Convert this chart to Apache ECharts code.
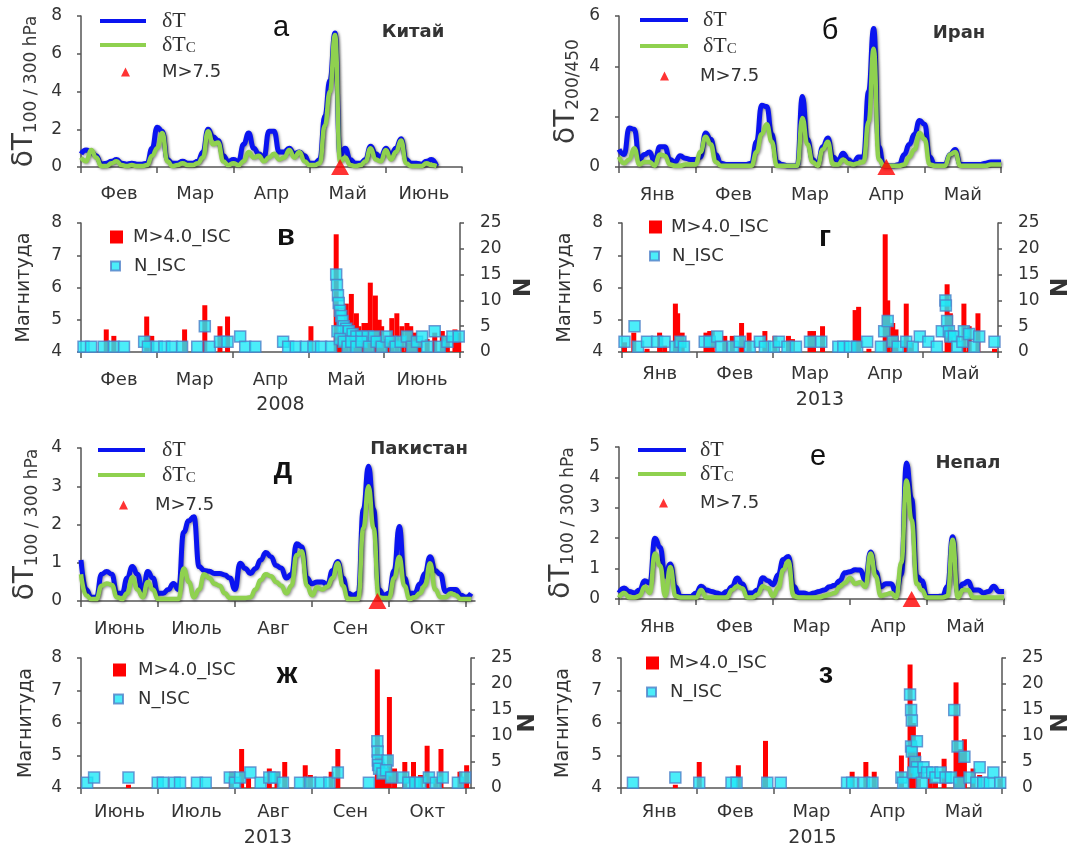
<!DOCTYPE html>
<html><head><meta charset="utf-8">
<script src="https://cdn.jsdelivr.net/npm/echarts@6/dist/echarts.min.js"></script>
<style>html,body{margin:0;padding:0;background:#fff}#c{width:1074px;height:850px}</style>
</head><body><div id="c"></div>
<script>
// ---------- data ----------
const STEP = 2; // days between samples of δT series
const mFebJun = ['Фев','Мар','Апр','Май','Июнь'];
const mJanMay = ['Янв','Фев','Мар','Апр','Май'];
const mJunOct = ['Июнь','Июль','Авг','Сен','Окт'];
const tickDays = [0,30,60,90,120,150];
const labelDays = [15,45,75,105,135];

// а — Китай 2008
const aBlue = [0.7,0.9,0.8,0.6,0.15,0.2,0.3,0.4,0.2,0.15,0.2,0.15,0.15,0.2,1.0,2.1,1.9,0.4,0.2,0.2,0.3,0.2,0.2,0.3,0.8,2.0,1.6,1.4,0.6,0.3,0.4,0.3,1.2,1.8,1.0,0.7,0.5,1.9,1.9,0.8,0.8,1.0,0.7,0.8,0.6,0.2,0.2,0.4,2.7,4.6,7.1,0.6,1.0,0.4,0.2,0.2,0.4,1.1,0.7,0.5,1.0,0.6,1.0,1.5,0.4,0.2,0.2,0.15,0.3,0.4,0.05];
const aGreen = [0.5,0.3,0.9,0.5,0.05,0.05,0.2,0.3,0.1,0.05,0.1,0.05,0.05,0.1,0.6,1.0,1.8,0.3,0.05,0.1,0.2,0.1,0.1,0.2,0.5,1.9,1.2,1.3,0.3,0.1,0.2,0.1,0.3,0.8,0.5,0.6,0.3,0.5,0.7,0.4,0.5,0.9,0.5,0.8,0.3,0.1,0.1,0.2,2.2,4.0,7.0,0.3,0.5,0.1,0.05,0.1,0.3,1.0,0.4,0.3,0.9,0.4,0.8,1.4,0.2,0.05,0.05,0.05,0.2,0.1,0.05];
const aQuake = [[102,0]];
// б — Иран 2013
const bBlue = [0.7,0.5,1.55,1.5,0.3,0.5,0.6,0.2,0.8,0.8,0.3,0.2,0.45,0.35,0.3,0.3,0.4,1.35,1.1,0.5,0.15,0.1,0.1,0.1,0.1,0.1,0.15,1.0,2.45,2.4,1.3,0.2,0.1,0.05,0.05,0.05,2.8,1.1,0.3,0.1,0.8,1.15,0.4,0.25,0.55,0.3,0.15,0.4,0.4,3.0,5.5,0.8,0.05,0.05,0.05,0.1,0.5,0.9,1.3,1.85,1.7,0.4,0.1,0.1,0.1,0.5,0.7,0.1,0.1,0.1,0.1,0.1,0.15,0.2,0.2,0.2];
const bGreen = [0.4,0.15,0.3,0.75,0.1,0.2,0.2,0.05,0.5,0.45,0.1,0.05,0.05,0.1,0.1,0.1,0.6,1.2,0.9,0.2,0.05,0.05,0.05,0.05,0.05,0.05,0.05,0.6,1.3,1.7,1.0,0.05,0.05,0.05,0.05,0.05,1.95,0.9,0.2,0.05,0.7,1.0,0.1,0.1,0.3,0.15,0.1,0.15,0.2,1.8,4.7,0.3,0.05,0.05,0.05,0.05,0.1,0.4,0.7,1.35,1.1,0.1,0.05,0.05,0.05,0.5,0.6,0.05,0.05,0.05,0.05,0.05,0.05,0.1,0.1,0.1];
const bQuake = [[105,0]];
// д — Пакистан 2013
const dBlue = [1.07,0.3,0.1,0.1,0.7,0.77,0.7,0.2,0.2,0.6,0.9,0.7,0.2,0.77,0.6,0.2,0.2,0.3,0.46,0.3,1.8,2.1,2.2,0.9,0.8,0.78,0.72,0.72,0.68,0.6,0.3,0.99,0.85,0.72,0.85,1.07,1.27,1.16,0.93,0.86,0.6,0.7,1.5,1.42,0.6,0.45,0.5,0.5,0.42,0.8,1.03,0.6,0.2,0.15,0.2,2.4,3.52,2.4,0.3,0.15,0.2,0.8,1.95,0.6,0.2,0.2,0.45,0.72,1.16,0.8,0.7,0.25,0.3,0.3,0.15,0.1,0.2];
const dGreen = [0.7,0.15,0.05,0.05,0.4,0.46,0.42,0.1,0.05,0.2,0.62,0.3,0.1,0.5,0.3,0.05,0.05,0.05,0.05,0.05,0.85,0.5,0.1,0.3,0.7,0.6,0.45,0.4,0.2,0.08,0.08,0.08,0.08,0.1,0.3,0.55,0.7,0.65,0.5,0.4,0.2,0.4,1.2,1.3,0.4,0.15,0.35,0.3,0.38,0.6,0.99,0.4,0.05,0.05,0.05,1.9,3.0,1.9,0.1,0.08,0.08,0.6,1.15,0.4,0.05,0.1,0.2,0.4,0.99,0.3,0.1,0.1,0.2,0.15,0.05,0.05,0.05];
const dQuake = [[115.5,0]];
// е — Непал 2015
const eBlue = [0.2,0.36,0.25,0.2,0.3,0.6,0.53,2.0,1.7,0.75,1.15,0.4,0.08,0.08,0.08,0.2,0.42,0.3,0.25,0.2,0.15,0.25,0.4,0.69,0.5,0.2,0.2,0.3,0.7,0.6,0.47,0.8,1.3,1.4,0.42,0.2,0.2,0.15,0.2,0.25,0.3,0.4,0.45,0.6,0.86,0.9,0.96,0.95,0.6,1.55,0.9,0.4,0.5,0.5,0.2,0.8,4.47,3.3,0.75,0.6,0.08,0.08,0.08,0.1,0.42,2.05,0.2,0.5,0.58,0.3,0.3,0.2,0.25,0.42,0.25,0.25];
const eGreen = [0.05,0.2,0.05,0.05,0.1,0.4,0.2,1.5,1.1,0.1,1.05,0.1,0.05,0.05,0.05,0.05,0.3,0.05,0.05,0.05,0.05,0.05,0.3,0.42,0.35,0.05,0.05,0.15,0.42,0.35,0.1,0.35,0.96,1.25,0.1,0.05,0.05,0.05,0.05,0.05,0.1,0.15,0.2,0.4,0.53,0.69,0.5,0.55,0.4,1.5,0.75,0.1,0.15,0.2,0.05,1.2,3.9,2.6,0.5,0.3,0.05,0.05,0.05,0.05,0.1,1.95,0.05,0.3,0.3,0.05,0.05,0.05,0.05,0.05,0.05,0.05];
const eQuake = [[114,0]];

// в — ISC 2008 (day, magnitude) and (day, N)
const vMag = [[10,4.7],[13,4.5],[26,5.1],[28,4.5],[41,4.7],[49,5.45],[55,4.8],[58,5.1],[91,4.8],[101,7.65],[102,4.6],[103.5,4.9],[105,5.5],[107,5.8],[109,5.2],[110,4.8],[112,4.9],[113,4.9],[114.5,6.15],[116.5,5.75],[118,5.0],[119,4.8],[121,4.4],[123,5.05],[125,5.2],[127,4.8],[129,4.9],[130.5,4.8],[132,4.6],[134,4.3],[137,4.4],[140,4.6],[143,4.65],[145,4.5],[148,4.7],[149.5,4.6]];
const vN = [[1,1],[4,1],[9,1],[13,1],[17,1],[25,2],[26.5,1],[30,1],[33,1],[36,1],[40,1],[46,1],[49,5],[51,1],[55,2],[58,2],[63,3],[65,1],[69,1],[80,2],[82,1],[85,1],[89,1],[92,1],[95,1],[99,1],[101,15],[101.3,13],[101.7,11],[102,9.5],[102.5,8],[103,7],[103.5,6],[104,5],[105,4.5],[106,4],[107.5,3.5],[109,3],[111,3],[113.5,3],[116,3],[101.5,4],[102.5,2.5],[104,2],[105.5,1],[107,2],[109,1],[111,2],[114,1],[117,2],[119,1],[121,3],[122.5,2],[124.5,1],[126.5,2],[129,3],[131,1],[133,2],[135,3],[137,1],[140,4],[142,1],[145,2],[147,3],[149.5,3]];
// г — ISC 2013 Иран
const gMag = [[1,4.3],[4.7,4.6],[10,4.1],[15,4.6],[17,4.2],[21.3,5.5],[22.2,5.2],[24,4.6],[33.5,4.6],[35,4.65],[36,4.65],[41,4.5],[44,4.5],[47.7,4.9],[50.7,4.6],[57,4.65],[61,4.5],[66.4,4.5],[68,4.4],[75,4.65],[76.4,4.65],[80,4.8],[93,5.3],[94.4,5.4],[98.5,4.1],[105,7.65],[106,5.6],[108,4.9],[109.3,4.7],[113.4,5.5],[115.4,4.3],[129.7,6.1],[131,5.2],[136.4,5.5],[138.5,4.8],[142,5.2],[148.6,4.1]];
const gN = [[1,2],[5,5],[6.4,1],[10,2],[14,2],[17,2],[21.3,1],[23.3,2],[24.7,1],[33,2],[35,2],[38,3],[39.6,1],[44.3,1],[47,2],[51,1],[55,2],[57,1],[60.6,1],[62.6,2],[66,1],[69.4,1],[75,2],[79.5,2],[86.3,1],[88.3,1],[91,1],[93.8,1],[97.8,2],[103.3,1],[104.6,4],[106,6],[108,2],[110,1],[113.4,2],[116,1],[118.8,3],[122.2,2],[125.6,1],[127.6,4],[129,10],[129.2,9],[129.7,6],[130.4,4],[131,3],[132.4,3],[133.7,1],[135.8,2],[136.4,4],[138.5,3.5],[140.5,1],[142.5,3],[148.6,2]];
// ж — ISC 2013 Пакистан
const zhMag = [[18.5,4.1],[58.6,4.5],[62.6,5.2],[65.3,4.3],[73.4,4.6],[76.4,4.5],[79.4,4.8],[87.4,4.7],[89.4,4.4],[97.5,4.5],[100.1,5.2],[115.5,7.65],[116.9,5.0],[117.8,4.5],[118.7,4.6],[120.2,6.8],[122.2,4.6],[126.2,4.8],[129.6,4.8],[132.3,4.4],[134.9,5.3],[138.3,4.3],[140.3,5.2],[147.7,4.5],[150.3,4.7]];
const zhN = [[2.4,1],[5.1,2],[18.5,2],[29.9,1],[31.9,1],[36.5,1],[38.6,1],[45.2,1],[48.6,1],[58,2],[60,1],[62,2],[66,3],[70,1],[73.4,2],[75.4,2],[78.7,1],[85.4,1],[89.4,1],[93.4,1],[96.8,1],[100.1,3],[112.2,1],[115.5,9],[115.6,7],[115.7,5.3],[115.8,4.4],[116.2,3.7],[117.5,2.8],[119.5,5.3],[118.9,3.4],[120.9,2],[125.6,2],[127.6,1],[130.3,1],[132.3,1],[135.6,2],[138.3,1],[141,2],[146.9,1],[149.7,2]];
// з — ISC 2015 Непал
const zMag = [[21.4,4.1],[30.8,4.8],[46.2,4.7],[56.9,5.45],[91,4.5],[96.4,4.8],[99.7,4.5],[110.4,5.0],[113.8,7.8],[114.5,5.5],[115.1,6.0],[117.1,5.1],[121.8,4.4],[123.8,4.2],[127.2,4.9],[131.9,7.25],[133.5,5.2],[135.2,5.5],[138.6,4.6],[141.2,4.4],[149.2,4.3]];
const zN = [[4.7,1],[21.4,2],[30.8,1],[43.5,1],[45.5,1],[57.6,1],[62.9,1],[89,1],[91,1],[95.7,1],[99,1],[110.4,2],[111.1,1],[113.8,18],[114.2,15],[114.5,13],[114.2,8],[114.5,7],[116.5,9],[115.8,5],[116.5,4],[117.1,3],[115.1,3],[118.5,1],[119.1,4],[120.5,3],[122.5,3],[123.8,2],[125.8,3],[127.8,2],[129.9,2],[131.2,15],[132.5,8],[135.2,6],[133.2,1],[137.2,2],[139.9,1],[141.2,4],[142.6,1],[145.2,1],[146.6,3],[149.3,1]];

// ---------- styles ----------
const FONT = 'DejaVu Sans', SERIF = 'Liberation Serif';
const AX = '#555', TXT = '#333';
const BLUE = '#0a14f0', GREEN = '#8fd14f', RED = '#ff0000', CYAN = '#1ee8f8', CYANB = '#4f7fc8';

const grids = [], xAxes = [], yAxes = [], series = [], legends = [], graphics = [];

function xAx(gi, xmax, months, margin, year, yearGap, yearPad) {
  const o = {gridIndex: gi, type: 'value', min: 0, max: xmax,
    axisLine: {show: true, onZero: false, lineStyle: {color: AX, width: 1.5}},
    axisTick: {show: true, customValues: tickDays, length: 6, lineStyle: {color: AX, width: 1.5}},
    axisLabel: {show: true, customValues: labelDays, margin: margin, color: TXT, fontSize: 18, fontFamily: FONT,
      formatter: v => months[Math.round((v - 15) / 30)]},
    splitLine: {show: false}};
  if (year) Object.assign(o, {name: year, nameLocation: 'middle', nameGap: yearGap,
    nameTextStyle: {color: TXT, fontSize: 19, fontFamily: FONT, padding: yearPad}});
  return o;
}
function yBase(gi, min, max, interval, pos) {
  return {gridIndex: gi, type: 'value', min, max, interval, position: pos,
    axisLine: {show: true, lineStyle: {color: AX, width: 1.5}},
    axisTick: {show: true, length: 4, lineStyle: {color: AX, width: 1.5}},
    axisLabel: {margin: pos === 'left' ? 19 : 20, color: TXT, fontSize: 17, fontFamily: FONT},
    splitLine: {show: false}};
}
function leg(name, left, cy, w, h, icon, pad, fmt) {
  legends.push({show: true, left, top: cy - 10, padding: 0, orient: 'horizontal', selectedMode: false,
    itemWidth: w, itemHeight: h, data: [{name, icon}], formatter: fmt,
    textStyle: {color: TXT, fontSize: 18, fontFamily: FONT, lineHeight: 20, padding: [0, 0, 0, pad],
      rich: {s: {fontFamily: SERIF, fontSize: 22, lineHeight: 22, color: TXT},
             c: {fontFamily: SERIF, fontSize: 15, lineHeight: 14, color: TXT, verticalAlign: 'bottom'}}}});
}
function label(text, x, y, size, bold, family, color) {
  graphics.push({type: 'text', x, y, silent: true, style: {text, fill: color || '#111', fontSize: size,
    fontWeight: bold ? 'bold' : 'normal', fontFamily: family,
    align: 'center', verticalAlign: 'middle', textAlign: 'center', textVerticalAlign: 'middle'}});
}

const topPanels = [
  {grid: {left: 81, top: 16, width: 381, height: 151}, xmax: 150, ymax: 8, yint: 2, months: mFebJun, margin: 18,
   blue: aBlue, green: aGreen, quake: aQuake, sub: '100 / 300 hPa', gap: 41,
   lg: {x: 100, w: 46, y: [20, 44, 72], tri: 121, padL: 11, padT: 27},
   letter: ['а', 281, 28, false], country: ['Китай', 413, 32]},
  {grid: {left: 619, top: 16, width: 382, height: 151}, xmax: 150, ymax: 6, yint: 2, months: mJanMay, margin: 19,
   blue: bBlue, green: bGreen, quake: bQuake, sub: '200/450', gap: 37,
   lg: {x: 640, w: 48, y: [19, 45, 76], tri: 660, padL: 10, padT: 26},
   letter: ['б', 830, 31, false], country: ['Иран', 959, 33]},
  {grid: {left: 81, top: 448, width: 394, height: 153}, xmax: 153.5, ymax: 4, yint: 1, months: mJunOct, margin: 19,
   blue: dBlue, green: dGreen, quake: dQuake, sub: '100 / 300 hPa', gap: 40,
   lg: {x: 98, w: 47, y: [449, 474, 505], tri: 119, padL: 12, padT: 22},
   letter: ['д', 283, 470, true], country: ['Пакистан', 419, 449]},
  {grid: {left: 619, top: 447, width: 385, height: 152}, xmax: 150, ymax: 5, yint: 1, months: mJanMay, margin: 19,
   blue: eBlue, green: eGreen, quake: eQuake, sub: '100 / 300 hPa', gap: 42,
   lg: {x: 638, w: 48, y: [449, 473, 503], tri: 659, padL: 9, padT: 27},
   letter: ['е', 818, 457, false], country: ['Непал', 968, 463]}
];
const botPanels = [
  {grid: {left: 81, top: 223, width: 379, height: 129}, xmax: 150, months: mFebJun, margin: 19, year: '2008', yearGap: 44, yearPad: [0, 0, 0, 20],
   mag: vMag, n: vN, gapL: 47, gapR: 53,
   lg: {x: 110, y: [237, 266], pr: 5, pc: 9}, letter: ['в', 286, 237, true]},
  {grid: {left: 622, top: 223, width: 379, height: 129}, xmax: 150, months: mJanMay, margin: 13, year: '2013', yearGap: 39, yearPad: [0, 0, 0, 20],
   mag: gMag, n: gN, gapL: 47, gapR: 52,
   lg: {x: 649, y: [227, 256], pr: 4, pc: 8}, letter: ['г', 825, 238, true]},
  {grid: {left: 81, top: 658, width: 390, height: 130}, xmax: 152, months: mJunOct, margin: 15, year: '2013', yearGap: 41, yearPad: [0, 16, 0, 0],
   mag: zhMag, n: zhN, gapL: 45, gapR: 45,
   lg: {x: 113, y: [670, 699], pr: 7, pc: 10}, letter: ['ж', 287, 675, true]},
  {grid: {left: 621, top: 658, width: 383, height: 130}, xmax: 150, months: mJanMay, margin: 15, year: '2015', yearGap: 41, yearPad: [0, 0, 0, 2],
   mag: zMag, n: zN, gapL: 48, gapR: 48,
   lg: {x: 646, y: [663, 692], pr: 5, pc: 9}, letter: ['з', 826, 675, true]}
];

const lineShadow = {shadowColor: 'rgba(0,0,0,0.45)', shadowBlur: 3, shadowOffsetX: 1, shadowOffsetY: 1};

topPanels.forEach(p => {
  const gi = grids.length;
  grids.push(p.grid);
  xAxes.push(xAx(gi, p.xmax, p.months, p.margin));
  const yi = yAxes.length;
  const y = yBase(gi, 0, p.ymax, p.yint, 'left');
  Object.assign(y, {name: '{d|δT}{s|' + p.sub + '}', nameLocation: 'middle', nameRotate: 90, nameGap: p.gap,
    nameTextStyle: {rich: {
      d: {fontSize: 28, lineHeight: 30, fontFamily: FONT, color: '#3a3a3a'},
      s: {fontSize: 17, lineHeight: 14, fontFamily: FONT, color: '#3a3a3a', verticalAlign: 'bottom'}}}});
  yAxes.push(y);
  const common = {type: 'line', xAxisIndex: gi, yAxisIndex: yi, showSymbol: false, symbol: 'none',
    smooth: 0.5, smoothMonotone: 'x', clip: false, silent: true, animation: false};
  series.push(Object.assign({}, common, {name: 'δT', color: BLUE, itemStyle: {color: BLUE},
    lineStyle: Object.assign({color: BLUE, width: 5}, lineShadow),
    data: p.blue.map((v, i) => [i * STEP, v])}));
  series.push(Object.assign({}, common, {name: 'δTc', color: GREEN, itemStyle: {color: GREEN},
    lineStyle: Object.assign({color: GREEN, width: 4.5}, lineShadow),
    data: p.green.map((v, i) => [i * STEP, v])}));
  series.push({type: 'scatter', name: 'M>7.5', xAxisIndex: gi, yAxisIndex: yi, symbol: 'triangle',
    symbolSize: [18, 16], clip: false, silent: true, animation: false, z: 5,
    itemStyle: {color: RED}, data: p.quake});
  leg('δT', p.lg.x, p.lg.y[0], p.lg.w, 4, 'rect', p.lg.padL, () => '{s|δT}');
  leg('δTc', p.lg.x, p.lg.y[1], p.lg.w, 4, 'rect', p.lg.padL, () => '{s|δT}{c|C}');
  leg('M>7.5', p.lg.tri, p.lg.y[2], 9, 9, 'triangle', p.lg.padT);
  label(p.letter[0], p.letter[1], p.letter[2], 29, p.letter[3], 'Liberation Sans', '#111');
  label(p.country[0], p.country[1], p.country[2], 18, true, FONT, '#333');
});

botPanels.forEach(p => {
  const gi = grids.length;
  grids.push(p.grid);
  xAxes.push(xAx(gi, p.xmax, p.months, p.margin, p.year, p.yearGap, p.yearPad));
  const yl = yAxes.length;
  const y1 = yBase(gi, 4, 8, 1, 'left');
  Object.assign(y1, {name: 'Магнитуда', nameLocation: 'middle', nameRotate: 90, nameGap: p.gapL,
    nameTextStyle: {color: TXT, fontSize: 19, fontFamily: FONT}});
  yAxes.push(y1);
  const y2 = yBase(gi, 0, 25, 5, 'right');
  Object.assign(y2, {name: 'N', nameLocation: 'middle', nameRotate: 90, nameGap: p.gapR,
    nameTextStyle: {color: '#333', fontSize: 23, fontWeight: 'bold', fontFamily: FONT}});
  yAxes.push(y2);
  series.push({type: 'bar', name: 'M>4.0_ISC', xAxisIndex: gi, yAxisIndex: yl, barWidth: 5,
    itemStyle: {color: RED}, silent: true, animation: false, data: p.mag});
  series.push({type: 'scatter', name: 'N_ISC', xAxisIndex: gi, yAxisIndex: yl + 1, symbol: 'rect', symbolSize: 11,
    clip: false, silent: true, animation: false, z: 4,
    itemStyle: {color: CYAN, borderColor: CYANB, borderWidth: 1.5}, data: p.n});
  leg('M>4.0_ISC', p.lg.x, p.lg.y[0], 13, 13, 'rect', p.lg.pr);
  leg('N_ISC', p.lg.x, p.lg.y[1], 9, 9, 'rect', p.lg.pc);
  label(p.letter[0], p.letter[1], p.letter[2], 29, p.letter[3], 'Liberation Sans', '#111');
});

const chart = echarts.init(document.getElementById('c'), null, {renderer: 'canvas'});
chart.setOption({
  animation: false,
  backgroundColor: '#fff',
  grid: grids, xAxis: xAxes, yAxis: yAxes, series, legend: legends,
  graphic: {elements: graphics}
});
</script></body></html>
